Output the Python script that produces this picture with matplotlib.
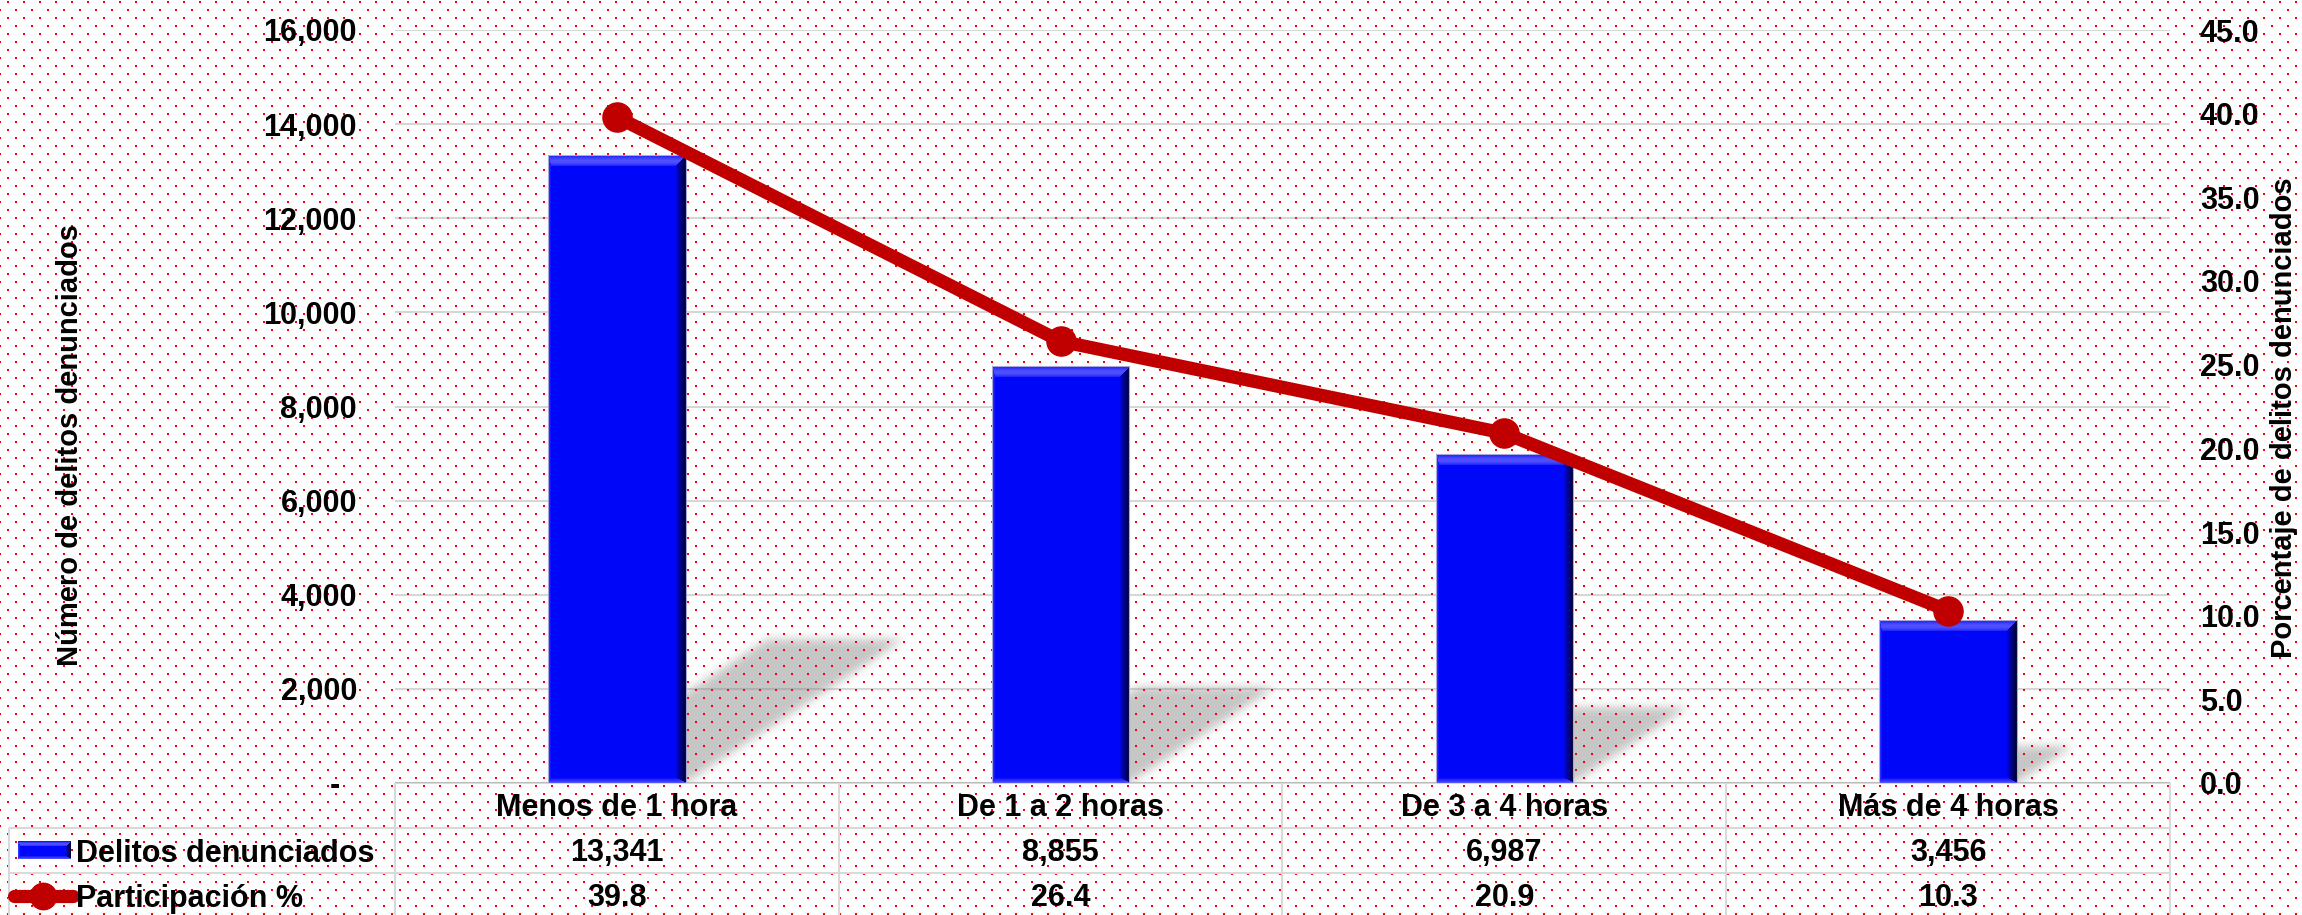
import numpy as np
import matplotlib
matplotlib.use("Agg")
import matplotlib.pyplot as plt
from matplotlib.path import Path
from matplotlib.ticker import FuncFormatter

# ---------------- data ----------------
categories = ["Menos de 1 hora", "De 1 a 2 horas", "De 3 a 4 horas", "Más de 4 horas"]
delitos = [13341, 8855, 6987, 3456]
participacion = [39.8, 26.4, 20.9, 10.3]
series_names = ["Delitos denunciados", "Participación %"]
left_ticks = [0, 2000, 4000, 6000, 8000, 10000, 12000, 14000, 16000]
right_ticks = [0, 5, 10, 15, 20, 25, 30, 35, 40, 45]
left_label = "Número de delitos denunciados"
right_label = "Porcentaje de delitos denunciados"

# ---------------- style ----------------
W, H, DPI = 2302, 915, 100
plt.rcParams["font.family"] = ["Liberation Sans", "DejaVu Sans"]
plt.rcParams["font.weight"] = "bold"
FS = 22
BAR_COLOR = np.array([0.0, 0.03, 0.98])
LINE_COLOR = "#C00000"
GRID_COLOR = "#D9D9D9"

fig = plt.figure(figsize=(W / DPI, H / DPI), dpi=DPI, facecolor="white")

AX_L, AX_R, AX_T, AX_B = 395, 2170, 30, 783
ax = fig.add_axes([AX_L / W, 1 - AX_B / H, (AX_R - AX_L) / W, (AX_B - AX_T) / H], zorder=1)
ax2 = ax.twinx()
ax2.set_zorder(2)
for a in (ax, ax2):
    a.patch.set_visible(False)
    for s in a.spines.values():
        s.set_visible(False)

n = len(categories)
x = np.arange(n)
ax.set_xlim(-0.5, n - 0.5)
ax.set_ylim(left_ticks[0], left_ticks[-1])
ax2.set_ylim(right_ticks[0], right_ticks[-1])
ax.set_xticks([])

ax.set_yticks(left_ticks)
ax.yaxis.set_major_formatter(FuncFormatter(lambda v, p: "-  " if v == 0 else f"{v:,.0f}"))
ax.tick_params(axis="y", length=0, pad=27.4, labelsize=FS)
ax2.set_yticks(right_ticks)
ax2.yaxis.set_major_formatter(FuncFormatter(lambda v, p: f"{v:.1f}"))
ax2.tick_params(axis="y", length=0, pad=21.6, labelsize=FS)

ax.set_axisbelow(True)
ax.yaxis.grid(True, color="#7a7a7a", alpha=0.3, lw=1.5)

BAR_W = 0.31


def bevel_image(wpx, hpx, base, top=11, right=10, bottom=5, left=3):
    r = np.arange(hpx)[:, None] * np.ones((1, wpx))
    c = np.ones((hpx, 1)) * np.arange(wpx)[None, :]
    stack = np.stack([r / top, (hpx - 1 - r) / bottom, c / left, (wpx - 1 - c) / right])
    idx = stack.argmin(0)
    dmin = stack.min(0)
    img = np.ones((hpx, wpx, 3)) * base
    targets = [np.array([0.33, 0.33, 1.0]), np.array([0.30, 0.30, 1.0]),
               np.array([0.20, 0.20, 1.0]), np.array([0.0, 0.0, 0.20])]
    powers = [1.0, 1.0, 1.0, 0.8]
    for k, t in enumerate(targets):
        m = (idx == k) & (dmin < 1)
        f = (1 - dmin[m]) ** powers[k]
        if k == 0:
            f = np.sin(np.pi * (1 - f) * 0.9 + 0.1) * 0.9 + 0.1 * f
        img[m] = img[m] * (1 - f[:, None]) + t * f[:, None]
    return img


# bars
ax.bar(x, delitos, width=BAR_W, color=BAR_COLOR, edgecolor="none", zorder=2)
for xi, v in zip(x, delitos):
    p0 = ax.transData.transform((xi - BAR_W / 2, 0))
    p1 = ax.transData.transform((xi + BAR_W / 2, v))
    wpx = int(round(p1[0] - p0[0]))
    hpx = int(round(p1[1] - p0[1]))
    ax.imshow(bevel_image(wpx, hpx, BAR_COLOR), extent=(xi - BAR_W / 2, xi + BAR_W / 2, 0, v),
              aspect="auto", interpolation="nearest", zorder=2.2)
ax.bar(x, delitos, width=BAR_W, fill=False, edgecolor="#A8A8DC", lw=0.8, zorder=2.4)
ax.set_xlim(-0.5, n - 0.5)
ax.set_ylim(left_ticks[0], left_ticks[-1])

# line
ax2.plot(x, participacion, color=LINE_COLOR, lw=9.5, marker="o", ms=21,
         solid_capstyle="round", zorder=3, clip_on=False)

# ---------------- shadows (figure image under dotted pattern) ----------------
mask = np.zeros((H, W))
for xi, v in zip(x, delitos):
    p0 = ax.transData.transform((xi - BAR_W / 2, 0))
    p1 = ax.transData.transform((xi + BAR_W / 2, v))
    h = p1[1] - p0[1]
    poly = np.array([(p0[0], p0[1]), (p1[0], p0[1]),
                     (p1[0] + 0.35 * h, p0[1] + 0.23 * h), (p0[0] + 0.35 * h, p0[1] + 0.23 * h)])
    poly[:, 1] = H - poly[:, 1]
    xmin, xmax = int(poly[:, 0].min()) - 2, int(poly[:, 0].max()) + 2
    ymin, ymax = int(poly[:, 1].min()) - 2, int(poly[:, 1].max()) + 2
    gy, gx = np.mgrid[ymin:ymax, xmin:xmax]
    pts = np.column_stack([gx.ravel() + 0.5, gy.ravel() + 0.5])
    inside = Path(poly).contains_points(pts).reshape(gx.shape)
    mask[ymin:ymax, xmin:xmax] = np.maximum(mask[ymin:ymax, xmin:xmax], inside)


def box_blur(a, r):
    k = 2 * r + 1
    p = np.pad(a, r, mode="constant")
    c = np.vstack([np.zeros((1, p.shape[1])), np.cumsum(p, axis=0)])
    a1 = (c[k:] - c[:-k]) / k
    c2 = np.hstack([np.zeros((a1.shape[0], 1)), np.cumsum(a1, axis=1)])
    return (c2[:, k:] - c2[:, :-k]) / k


mask = box_blur(box_blur(mask, 5), 5)
# keep shadow from bleeding below baseline
base_row = int(round(H - ax.transData.transform((0, 0))[1]))
mask[base_row:, :] = 0
shadow = np.zeros((H, W, 4))
shadow[..., :3] = 0.78
shadow[..., 3] = np.clip(mask, 0, 1)
fig.figimage(shadow, 0, 0, origin="upper", zorder=-2)

# dotted red background pattern
yy, xx = np.mgrid[0:H, 0:W]
row = (yy - 1) // 8
in_row = ((yy - 1) % 8) < 2
off = np.where(row % 2 == 0, 7, 15)
in_col = ((xx - off) % 16) < 2
dots = in_row & in_col
dot_img = np.zeros((H, W, 4))
dot_img[..., 0] = 0.98
dot_img[..., 3] = dots.astype(float)
fig.figimage(dot_img, 0, 0, origin="upper", zorder=-1)

# ---------------- data table below the axes ----------------
tab = fig.add_axes([0, 0, 1, 1], zorder=0.5)
tab.set_xlim(0, W)
tab.set_ylim(H, 0)
tab.axis("off")
tab.patch.set_visible(False)

bounds = [ax.transData.transform((i - 0.5, 0))[0] for i in range(n + 1)]
centers = [ax.transData.transform((i, 0))[0] for i in range(n)]
ROW_H = 45
TABLE_LEFT = 9
rows_y = [base_row + k * ROW_H for k in range(4)]
lkw = dict(color=GRID_COLOR, lw=1.5, solid_capstyle="butt")
tab.plot([bounds[0], bounds[-1]], [rows_y[0]] * 2, **lkw)
tab.plot([TABLE_LEFT, bounds[-1]], [rows_y[1]] * 2, **lkw)
tab.plot([TABLE_LEFT, bounds[-1]], [rows_y[2]] * 2, **lkw)
for b in bounds:
    tab.plot([b, b], [rows_y[0], H + 5], **lkw)
tab.plot([TABLE_LEFT, TABLE_LEFT], [rows_y[1], H + 5], **lkw)

CAP = 11
for cx, cat in zip(centers, categories):
    tab.text(cx, rows_y[0] + ROW_H / 2 + CAP, cat, ha="center", va="baseline", fontsize=FS)
for cx, v in zip(centers, delitos):
    tab.text(cx, rows_y[1] + ROW_H / 2 + CAP, f"{v:,}", ha="center", va="baseline", fontsize=FS)
for cx, v in zip(centers, participacion):
    tab.text(cx, rows_y[2] + ROW_H / 2 + CAP, f"{v:.1f}", ha="center", va="baseline", fontsize=FS)

# legend keys
key_mid1 = rows_y[1] + ROW_H / 2
tab.imshow(bevel_image(53, 18, BAR_COLOR, top=5, right=5, bottom=3, left=2),
           extent=(18, 71, key_mid1 + 9, key_mid1 - 9), aspect="auto",
           interpolation="nearest", zorder=3)
tab.set_xlim(0, W)
tab.set_ylim(H, 0)
key_mid2 = rows_y[2] + ROW_H / 2
tab.plot([14, 73], [key_mid2, key_mid2], color=LINE_COLOR, lw=9.5, solid_capstyle="round")
tab.plot([43.5], [key_mid2], marker="o", ms=19, color=LINE_COLOR)
tab.text(76, key_mid1 + CAP, series_names[0], ha="left", va="baseline", fontsize=FS)
tab.text(76, key_mid2 + CAP, series_names[1], ha="left", va="baseline", fontsize=FS)

# axis titles
fig.text(70 / W, 1 - 445 / H, left_label, rotation=90, ha="center", va="center", fontsize=21)
fig.text(2284 / W, 1 - 418 / H, right_label, rotation=90, ha="center", va="center", fontsize=21)

fig.savefig("out.png", dpi=DPI, facecolor="white")
